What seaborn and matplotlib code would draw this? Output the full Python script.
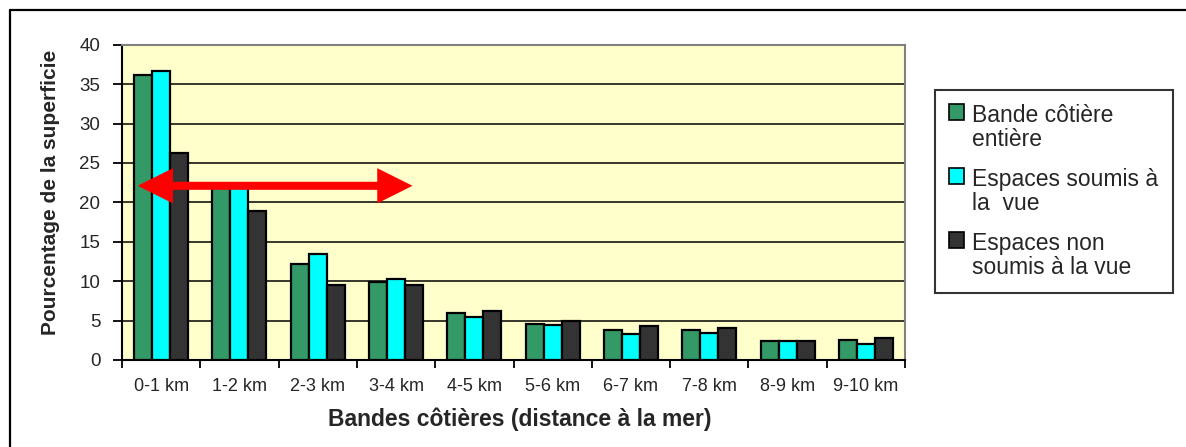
import matplotlib
matplotlib.use("Agg")
import matplotlib.pyplot as plt
import seaborn as sns
import pandas as pd
from matplotlib.lines import Line2D
from matplotlib.patches import FancyArrowPatch, ArrowStyle

# ---- data ----
categories = ["0-1 km", "1-2 km", "2-3 km", "3-4 km", "4-5 km",
              "5-6 km", "6-7 km", "7-8 km", "8-9 km", "9-10 km"]
series_names = ["Bande côtière\nentière",
                "Espaces soumis à\nla  vue",
                "Espaces non\nsoumis à la vue"]
bande_entiere = [36.1, 22.2, 12.15, 9.9, 5.9, 4.6, 3.8, 3.8, 2.4, 2.6]
soumis_vue = [36.7, 22.0, 13.4, 10.3, 5.4, 4.4, 3.25, 3.45, 2.4, 2.0]
non_soumis_vue = [26.3, 18.9, 9.5, 9.5, 6.2, 5.0, 4.25, 4.05, 2.4, 2.8]
colors = ["#339966", "#00FFFF", "#333333"]
y_ticks = list(range(0, 41, 5))
arrow_y = 22.1
arrow_x = (-0.30, 3.21)

df = pd.DataFrame({
    "cat": categories * 3,
    "val": bande_entiere + soumis_vue + non_soumis_vue,
    "series": [series_names[0]] * 10 + [series_names[1]] * 10 + [series_names[2]] * 10,
})

sns.set_style("white")
plt.rcParams["font.family"] = ["Liberation Sans", "DejaVu Sans"]

fig = plt.figure(figsize=(11.86, 4.47), dpi=100)
ax = fig.add_axes([122 / 1186, 1 - 360 / 447, 783 / 1186, 315.3 / 447])

sns.barplot(data=df, x="cat", y="val", hue="series", order=categories,
            hue_order=series_names, palette=colors, width=0.69, saturation=1,
            edgecolor="black", linewidth=1.6, ax=ax, zorder=3)

ax.set_facecolor("#FFFFCC")
ax.set_xlim(-0.5, 9.5)
ax.set_ylim(0, 40)
ax.set_yticks(y_ticks)
ax.yaxis.grid(True, color="black", linewidth=1.1)
ax.xaxis.grid(False)
ax.set_axisbelow(True)

for s in ["left", "bottom"]:
    ax.spines[s].set_color("black")
    ax.spines[s].set_linewidth(1.5)
for s in ["top", "right"]:
    ax.spines[s].set_color("#808080")
    ax.spines[s].set_linewidth(1.5)

ax.set_xticks([i - 0.5 for i in range(11)], minor=True)
ax.tick_params(axis="x", which="major", length=0, pad=13, labelsize=13)
ax.tick_params(axis="x", which="minor", length=6, width=1.3, direction="out", color="black")
ax.tick_params(axis="y", length=6.5, width=1.3, direction="out", pad=9, labelsize=13.5, color="black")
ax.tick_params(bottom=True, left=True, which="both")

ax.set_xlabel("Bandes côtières (distance à la mer)", fontsize=16.5, fontweight="bold")
ax.set_ylabel("Pourcentage de la superficie", fontsize=15, fontweight="bold")
ax.xaxis.set_label_coords(0.508, -0.152)
ax.yaxis.set_label_coords(-0.079, 0.531)

handles, labels = ax.get_legend_handles_labels()
ax.get_legend().remove()
leg = fig.legend(handles, labels, loc="upper left",
                 bbox_to_anchor=(935 / 1186, 1 - 90 / 447),
                 frameon=True, fancybox=False, fontsize=16.5,
                 handlelength=0.66, handleheight=0.66, handletextpad=0.35,
                 labelspacing=0.75, borderpad=0.62, borderaxespad=0)
leg.get_frame().set_edgecolor("black")
leg.get_frame().set_linewidth(1.5)
for t in leg.get_texts():
    t.set_linespacing(1.05)
for h in leg.legend_handles:
    h.set_edgecolor("black")
    h.set_linewidth(1.2)
for col in leg._legend_handle_box.get_children():
    for entry in col.get_children():
        entry.align = "top"

arrow = FancyArrowPatch((arrow_x[0], arrow_y), (arrow_x[1], arrow_y),
                        arrowstyle=ArrowStyle("<|-|>", head_length=16, head_width=8),
                        mutation_scale=1, color="#FF0000", lw=5.8,
                        shrinkA=0, shrinkB=0,
                        joinstyle="miter", capstyle="butt", zorder=5)
ax.add_patch(arrow)

fig.add_artist(Line2D([10 / 1186, 1], [1 - 10 / 447, 1 - 10 / 447],
                      transform=fig.transFigure, color="black", lw=1.6))
fig.add_artist(Line2D([10 / 1186, 10 / 1186], [0, 1 - 10 / 447],
                      transform=fig.transFigure, color="black", lw=1.6))

fig.savefig("out.png", dpi=100)
